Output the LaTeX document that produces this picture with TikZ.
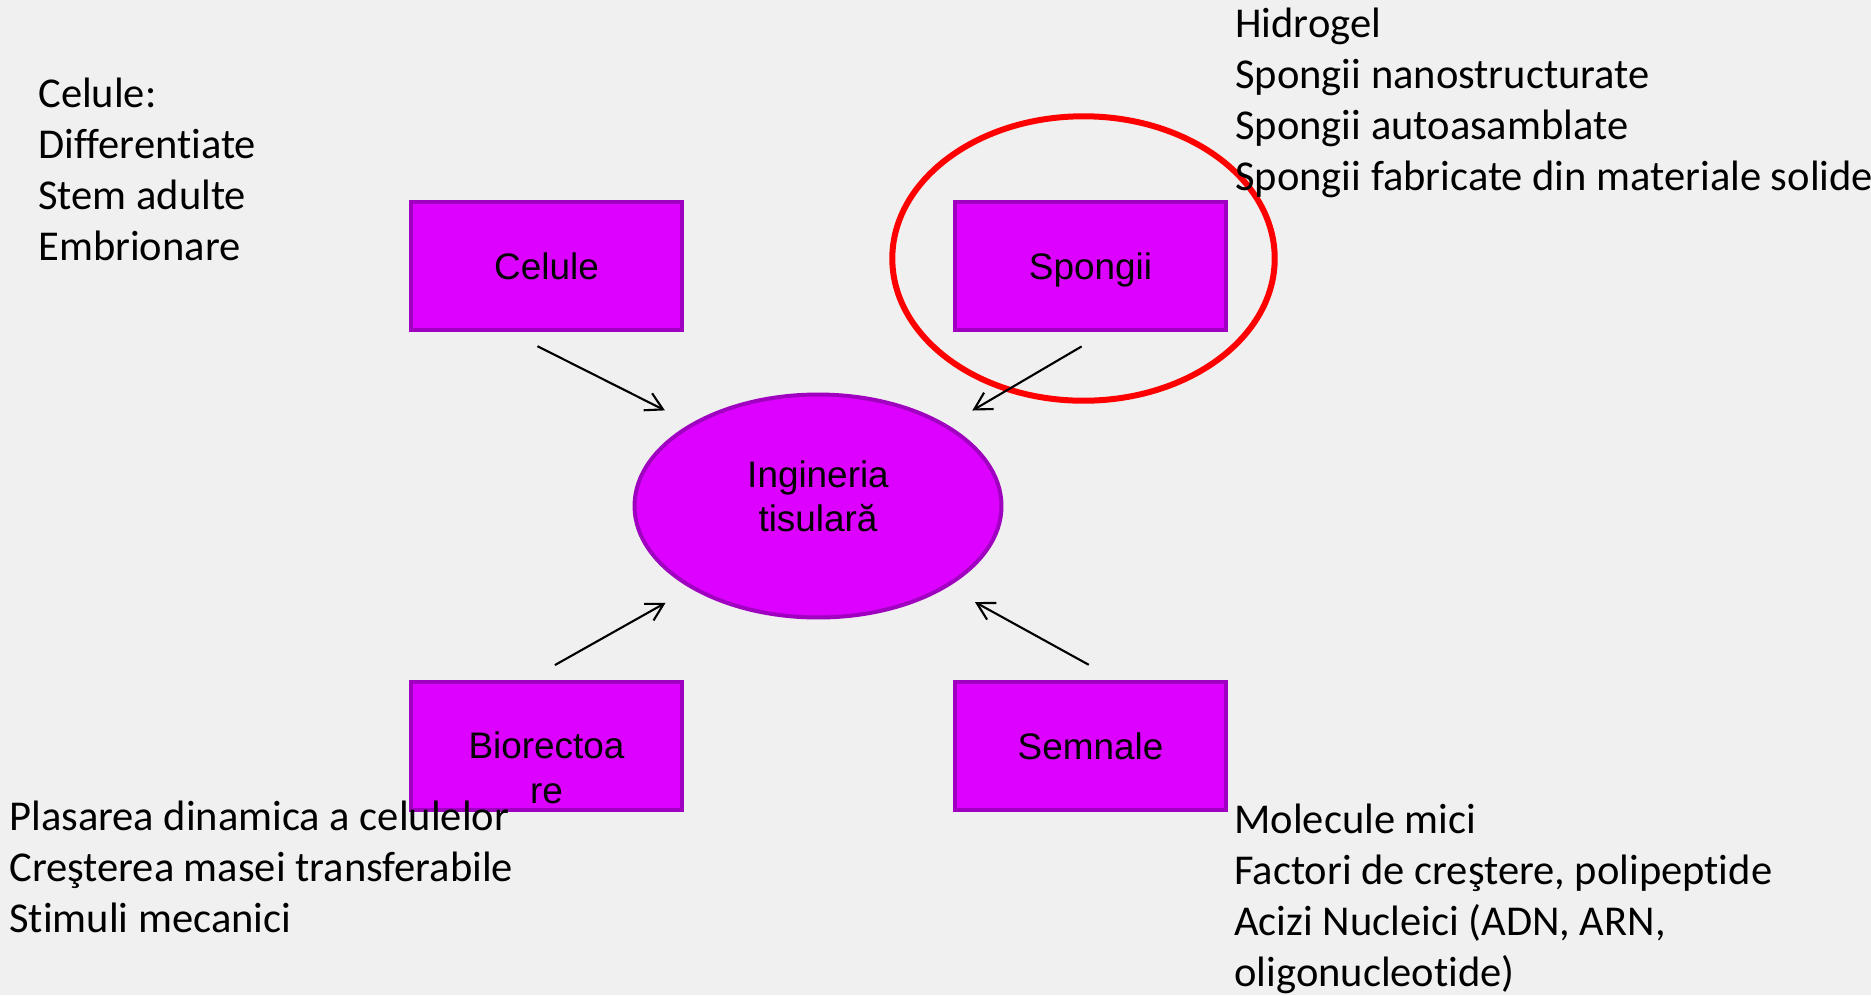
\documentclass[tikz,border=0pt]{standalone}
\usepackage{fontspec}
\setmainfont{Liberation Sans}
\newfontfamily\carlito[Ligatures=CommonOff]{Carlito}
\usetikzlibrary{shapes.geometric,arrows.meta}
\definecolor{bgray}{RGB}{240,240,240}
\definecolor{mag}{RGB}{221,2,255}
\definecolor{magborder}{RGB}{160,0,192}
\tikzset{
  part/.style={rectangle, draw=magborder, fill=mag, line width=0.09cm, minimum width=5.42cm, minimum height=2.56cm,
    inner sep=0pt, font=\fontsize{21}{25.3}\selectfont, text height=0.54cm, text depth=0cm},
  core/.style={ellipse, draw=magborder, fill=mag, line width=0.08cm, minimum width=7.34cm, minimum height=4.46cm,
    inner sep=0pt, align=center, font=\fontsize{21}{25.3}\selectfont, text depth=0.4cm},
  lst/.style={anchor=base west, inner sep=0pt, font=\carlito\fontsize{24.2}{29}\selectfont},
  feed/.style={-{Straight Barb[length=0.34cm,width=0.38cm]}, line width=0.042cm},
}
\begin{document}
\begin{tikzpicture}[x=0.02cm,y=-0.02cm]
    \fill[bgray] (0,0) rectangle (1871,995);
    \useasboundingbox (0,0) rectangle (1871,995);
    % the four parts round the centre
    \node[part] (celule) at (546.5,266) {Celule};
    \node[part] (spongii) at (1090.5,266) {Spongii};
    \node[part, align=center, text height=2.28cm] (bioreact) at (546.5,746) {Biorectoa\\re};
    \node[part] (semnale) at (1090.5,746) {Semnale};
    \node[core] (ing) at (818,506) {Ingineria\\tisular\u{a}};
    \node[ellipse, draw=red, line width=0.12cm, minimum width=7.65cm, minimum height=5.69cm, inner sep=0pt] (ring) at (1083.5,258.5) {};
    \draw[feed, shorten <=0.62cm, shorten >=0.58cm] (celule.241) -- (ing.147);
    \draw[feed, shorten <=0.56cm, shorten >=0.57cm] (spongii.283) -- (ing.32);
    \draw[feed, shorten <=0.60cm, shorten >=0.58cm] (bioreact.105) -- (ing.213);
    \draw[feed, shorten <=0.62cm, shorten >=0.62cm] (semnale.69) -- (ing.328);
    % lists
    \def\cel{Celule:,Differentiate,Stem adulte,Embrionare}
    \def\spo{Hidrogel,Spongii nanostructurate,Spongii autoasamblate,Spongii fabricate din materiale solide}
    \def\bio{Plasarea dinamica a celulelor,Creşterea masei transferabile,Stimuli mecanici}
    \def\sem{Molecule mici,{Factori de creştere, polipeptide},{Acizi Nucleici (ADN, ARN,},oligonucleotide)}
    \foreach \t [count=\i from 0] in \cel {\node[lst] (cel\i) at (38,107+51*\i) {\t};}
    \foreach \t [count=\i from 0] in \spo {\node[lst] (spo\i) at (1235,37+51*\i) {\t};}
    \foreach \t [count=\i from 0] in \bio {\node[lst] (bio\i) at (9,830+51*\i) {\t};}
    \foreach \t [count=\i from 0] in \sem {\node[lst] (sem\i) at (1234,833+51*\i) {\t};}
\end{tikzpicture}
\end{document}
